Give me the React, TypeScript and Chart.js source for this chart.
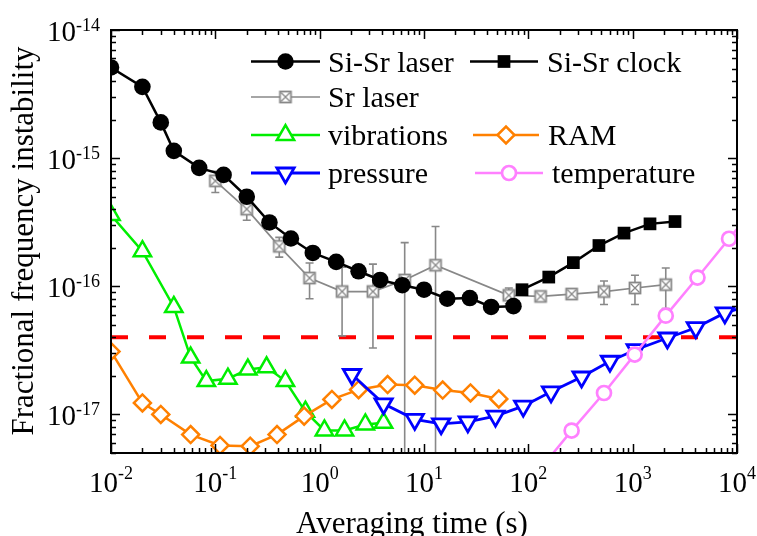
import React, { useEffect, useRef } from 'react';
import { Chart, registerables } from 'chart.js';
import { drawPoint } from 'chart.js/helpers';

Chart.register(...registerables);

// ---------------- data ----------------
const tauSiSrLaser = [0.01, 0.02, 0.03, 0.04, 0.07, 0.12, 0.2, 0.33, 0.53, 0.86, 1.44, 2.36, 3.8, 6.2, 10, 16.7, 27.5, 44, 72];
const sigSiSrLaser = [5.1e-15, 3.6e-15, 1.9e-15, 1.14e-15, 8.4e-16, 7.4e-16, 5.0e-16, 3.15e-16, 2.36e-16, 1.82e-16, 1.55e-16, 1.31e-16, 1.12e-16, 1.02e-16, 9.4e-17, 8.0e-17, 8.1e-17, 6.9e-17, 7.0e-17];

const tauSiSrClock = [87, 157, 270, 475, 826, 1466, 2546];
const sigSiSrClock = [9.4e-17, 1.18e-16, 1.53e-16, 2.08e-16, 2.6e-16, 3.07e-16, 3.2e-16];

const tauSrLaser = [0.1, 0.2, 0.41, 0.8, 1.64, 3.24, 6.53, 12.9, 65, 131, 260, 531, 1052, 2076];
const sigSrLaser = [6.65e-16, 4.0e-16, 2.05e-16, 1.16e-16, 9.1e-17, 9.1e-17, 1.12e-16, 1.46e-16, 8.5e-17, 8.34e-17, 8.7e-17, 9.1e-17, 9.7e-17, 1.03e-16];
const errSrLaser = [1.25e-16, 0.72e-16, 0.36e-16, 0.36e-16, 0.5e-16, 0.58e-16, 1.07e-16, 1.47e-16, 0.12e-16, 0.04e-16, 0.04e-16, 0.19e-16, 0.25e-16, 0.36e-16];

const tauVib = [0.01, 0.02, 0.04, 0.058, 0.082, 0.132, 0.205, 0.31, 0.47, 0.73, 1.11, 1.73, 2.74, 4.1];
const sigVib = [3.6e-16, 1.88e-16, 6.9e-17, 2.78e-17, 1.82e-17, 1.9e-17, 2.24e-17, 2.33e-17, 1.82e-17, 1.05e-17, 7.5e-18, 7.5e-18, 8.35e-18, 8.6e-18];

const tauRAM = [0.01, 0.02, 0.03, 0.058, 0.111, 0.216, 0.39, 0.71, 1.31, 2.36, 4.48, 8.15, 15.1, 27.9, 52.1];
const sigRAM = [3.1e-17, 1.23e-17, 1.0e-17, 6.96e-18, 5.73e-18, 5.65e-18, 6.96e-18, 9.7e-18, 1.31e-17, 1.56e-17, 1.71e-17, 1.69e-17, 1.55e-17, 1.47e-17, 1.32e-17];

const tauPressure = [2.04, 4.1, 8.15, 14.6, 26.3, 48.4, 89.3, 165, 324, 606, 1069, 2153, 4031, 7645, 15000];
const sigPressure = [2.05e-17, 1.21e-17, 9.15e-18, 8.45e-18, 8.75e-18, 9.7e-18, 1.16e-17, 1.5e-17, 1.96e-17, 2.6e-17, 3.2e-17, 3.95e-17, 4.75e-17, 6.2e-17, 7.3e-17];

const tauTemp = [128, 260, 531, 1045, 2076, 4180, 8390, 16900];
const sigTemp = [3.7e-18, 7.48e-18, 1.47e-17, 2.93e-17, 5.9e-17, 1.17e-16, 2.35e-16, 4.7e-16];

const tauLimit = [0.01, 10000];
const sigLimit = [4e-17, 4e-17];

const xTickExps = [-2, -1, 0, 1, 2, 3, 4];
const yTickExps = [-17, -16, -15, -14];

const xTitle = 'Averaging time (s)';
const yTitle = 'Fractional frequency instability';

const labels = ['Si-Sr laser', 'Si-Sr clock', 'Sr laser', 'vibrations', 'RAM', 'pressure', 'temperature'];

// ---------------- styles ----------------
const FONT = '"Liberation Serif", "Times New Roman", serif';
const GRAY = '#888888';
const GREEN = '#00ee00';
const ORANGE = '#ff8000';
const BLUE = '#0000ff';
const PINK = '#ff80ff';

function makeSrMarker(): HTMLCanvasElement {
  const c = document.createElement('canvas');
  c.width = 16;
  c.height = 16;
  const g = c.getContext('2d')!;
  g.fillStyle = '#ffffff';
  g.fillRect(2, 2, 12, 12);
  g.strokeStyle = GRAY;
  g.lineWidth = 1.8;
  g.strokeRect(2.5, 2.5, 11, 11);
  g.lineWidth = 1.3;
  g.beginPath();
  g.moveTo(3.5, 3.5);
  g.lineTo(12.5, 12.5);
  g.moveTo(12.5, 3.5);
  g.lineTo(3.5, 12.5);
  g.stroke();
  return c;
}

function pts(xs: number[], ys: number[]) {
  return xs.map((x, i) => ({ x, y: ys[i] }));
}

export default function App() {
  const ref = useRef<HTMLCanvasElement | null>(null);

  useEffect(() => {
    document.body.style.margin = '0';
    const canvas = ref.current!;
    const srMarker = makeSrMarker();

    const errorBars = {
      id: 'errorBars',
      beforeDatasetDraw(chart: any, args: any) {
        if (args.index !== 2) return;
        const ctx = chart.ctx;
        const xs = chart.scales.x;
        const ys = chart.scales.y;
        const a = chart.chartArea;
        ctx.save();
        ctx.beginPath();
        ctx.rect(a.left, a.top, a.right - a.left, a.bottom - a.top);
        ctx.clip();
        ctx.strokeStyle = GRAY;
        ctx.lineWidth = 1.6;
        tauSrLaser.forEach((t, i) => {
          const px = xs.getPixelForValue(t);
          const hi = sigSrLaser[i] + errSrLaser[i];
          const lo = sigSrLaser[i] - errSrLaser[i];
          const pyHi = ys.getPixelForValue(hi);
          const pyLo = lo > 0 ? ys.getPixelForValue(lo) : a.bottom + 20;
          ctx.beginPath();
          ctx.moveTo(px, pyHi);
          ctx.lineTo(px, pyLo);
          ctx.moveTo(px - 4, pyHi);
          ctx.lineTo(px + 4, pyHi);
          ctx.moveTo(px - 4, pyLo);
          ctx.lineTo(px + 4, pyLo);
          ctx.stroke();
        });
        ctx.restore();
      },
    };

    const decor = {
      id: 'decor',
      afterDraw(chart: any) {
        const ctx = chart.ctx;
        const xs = chart.scales.x;
        const ys = chart.scales.y;
        const a = chart.chartArea;
        ctx.save();
        // frame
        ctx.strokeStyle = '#000';
        ctx.lineWidth = 2;
        ctx.strokeRect(a.left, a.top, a.right - a.left, a.bottom - a.top);
        // ticks
        ctx.lineWidth = 1.5;
        ctx.beginPath();
        for (let e = -2; e <= 4; e++) {
          for (let k = 1; k <= 9; k++) {
            const v = k * Math.pow(10, e);
            if (v < xs.min * 0.999 || v > xs.max * 1.001) continue;
            const px = Math.round(xs.getPixelForValue(v)) + 0.5;
            const len = k === 1 ? 9 : 5;
            ctx.moveTo(px, a.bottom);
            ctx.lineTo(px, a.bottom - len);
            ctx.moveTo(px, a.top);
            ctx.lineTo(px, a.top + len);
          }
        }
        for (let e = -18; e <= -14; e++) {
          for (let k = 1; k <= 9; k++) {
            const v = k * Math.pow(10, e);
            if (v < ys.min * 0.999 || v > ys.max * 1.001) continue;
            const py = Math.round(ys.getPixelForValue(v)) + 0.5;
            const len = k === 1 ? 9 : 5;
            ctx.moveTo(a.left, py);
            ctx.lineTo(a.left + len, py);
            ctx.moveTo(a.right, py);
            ctx.lineTo(a.right - len, py);
          }
        }
        ctx.stroke();

        // tick labels
        ctx.fillStyle = '#000';
        ctx.textBaseline = 'alphabetic';
        const big = `29px ${FONT}`;
        const small = `18px ${FONT}`;
        const title = `31px ${FONT}`;
        const leg = `30px ${FONT}`;
        xTickExps.forEach((e) => {
          const px = xs.getPixelForValue(Math.pow(10, e));
          ctx.font = big;
          const w1 = ctx.measureText('10').width;
          ctx.font = small;
          const es = String(e);
          const w2 = ctx.measureText(es).width;
          const x0 = px - (w1 + w2) / 2;
          ctx.font = big;
          ctx.textAlign = 'left';
          ctx.fillText('10', x0, a.bottom + 39);
          ctx.font = small;
          ctx.fillText(es, x0 + w1, a.bottom + 26);
        });
        yTickExps.forEach((e) => {
          const py = ys.getPixelForValue(Math.pow(10, e));
          ctx.font = small;
          const es = String(e);
          const w2 = ctx.measureText(es).width;
          const right = a.left - 11;
          ctx.textAlign = 'left';
          ctx.fillText(es, right - w2, py + 1);
          ctx.font = big;
          ctx.textAlign = 'right';
          ctx.fillText('10', right - w2, py + 11);
        });

        // axis titles
        ctx.font = title;
        ctx.textAlign = 'center';
        ctx.fillText(xTitle, 412, a.bottom + 80);
        ctx.save();
        ctx.translate(33, 241);
        ctx.rotate(-Math.PI / 2);
        ctx.fillText(yTitle, 0, 0);
        ctx.restore();

        // legend
        const entries = [
          { ds: 0, x1: 251, x2: 320, y: 61.5, tx: 328 },
          { ds: 1, x1: 470, x2: 538, y: 61.5, tx: 547 },
          { ds: 2, x1: 251, x2: 320, y: 97, tx: 328 },
          { ds: 3, x1: 251, x2: 320, y: 135, tx: 328 },
          { ds: 4, x1: 473, x2: 539, y: 135, tx: 548 },
          { ds: 5, x1: 251, x2: 320, y: 173, tx: 328 },
          { ds: 6, x1: 475, x2: 543, y: 173, tx: 552 },
        ];
        entries.forEach((en, i) => {
          const d = chart.data.datasets[en.ds];
          ctx.strokeStyle = d.borderColor;
          ctx.lineWidth = d.borderWidth;
          ctx.setLineDash([]);
          ctx.beginPath();
          ctx.moveTo(en.x1, en.y);
          ctx.lineTo(en.x2, en.y);
          ctx.stroke();
          ctx.fillStyle = d.pointBackgroundColor;
          ctx.strokeStyle = d.pointBorderColor;
          ctx.lineWidth = d.pointBorderWidth;
          drawPoint(ctx, {
            pointStyle: d.pointStyle,
            rotation: d.pointRotation || 0,
            radius: d.pointRadius,
            borderWidth: d.pointBorderWidth,
          } as any, (en.x1 + en.x2) / 2, en.y);
          ctx.fillStyle = '#000';
          ctx.font = leg;
          ctx.textAlign = 'left';
          ctx.fillText(labels[i], en.tx, en.y + 10);
        });
        ctx.restore();
      },
    };

    const base = {
      showLine: true,
      clip: 0,
      tension: 0,
    };

    const chart = new Chart(canvas, {
      type: 'scatter',
      data: {
        datasets: [
          {
            ...base, label: labels[0], data: pts(tauSiSrLaser, sigSiSrLaser), order: 5,
            borderColor: '#000', borderWidth: 2.5, pointStyle: 'circle', pointRadius: 8.3,
            pointBackgroundColor: '#000', pointBorderColor: '#000', pointBorderWidth: 0,
          },
          {
            ...base, label: labels[1], data: pts(tauSiSrClock, sigSiSrClock), order: 4,
            borderColor: '#000', borderWidth: 2.5, pointStyle: 'rect', pointRadius: 9,
            pointBackgroundColor: '#000', pointBorderColor: '#000', pointBorderWidth: 0,
          },
          {
            ...base, label: labels[2], data: pts(tauSrLaser, sigSrLaser), order: 6,
            borderColor: GRAY, borderWidth: 1.7, pointStyle: srMarker, pointRadius: 7,
            pointBackgroundColor: '#fff', pointBorderColor: GRAY, pointBorderWidth: 0,
          },
          {
            ...base, label: labels[3], data: pts(tauVib, sigVib), order: 3,
            borderColor: GREEN, borderWidth: 2.5, pointStyle: 'triangle', pointRadius: 10,
            pointBackgroundColor: '#fff', pointBorderColor: GREEN, pointBorderWidth: 2.5,
          },
          {
            ...base, label: labels[4], data: pts(tauRAM, sigRAM), order: 2,
            borderColor: ORANGE, borderWidth: 2.5, pointStyle: 'rectRot', pointRadius: 8.5,
            pointBackgroundColor: '#fff', pointBorderColor: ORANGE, pointBorderWidth: 2.5,
          },
          {
            ...base, label: labels[5], data: pts(tauPressure, sigPressure), order: 1,
            borderColor: BLUE, borderWidth: 2.8, pointStyle: 'triangle', pointRotation: 180, pointRadius: 10,
            pointBackgroundColor: '#fff', pointBorderColor: BLUE, pointBorderWidth: 2.8,
          },
          {
            ...base, label: labels[6], data: pts(tauTemp, sigTemp), order: 0,
            borderColor: PINK, borderWidth: 2.5, pointStyle: 'circle', pointRadius: 7,
            pointBackgroundColor: '#fff', pointBorderColor: PINK, pointBorderWidth: 2.7,
          },
          {
            ...base, label: 'limit', data: pts(tauLimit, sigLimit), order: 7,
            borderColor: '#ff0000', borderWidth: 4, borderDash: [17, 21], pointRadius: 0,
            pointBackgroundColor: '#ff0000', pointBorderColor: '#ff0000', pointBorderWidth: 0,
          },
        ] as any,
      },
      options: {
        responsive: false,
        animation: false,
        devicePixelRatio: 1,
        layout: { padding: { left: 111, top: 30, right: 20, bottom: 83 } },
        scales: {
          x: { type: 'logarithmic', min: 0.01, max: 10000, display: false },
          y: { type: 'logarithmic', min: 5e-18, max: 1e-14, display: false },
        },
        plugins: {
          legend: { display: false },
          tooltip: { enabled: false },
        },
        events: [],
      } as any,
      plugins: [errorBars, decor],
    });
    return () => chart.destroy();
  }, []);

  return (
    <div style={{ width: 757, height: 536, background: '#fff' }}>
      <canvas ref={ref} width={757} height={536} style={{ display: 'block', width: 757, height: 536 }} />
    </div>
  );
}
